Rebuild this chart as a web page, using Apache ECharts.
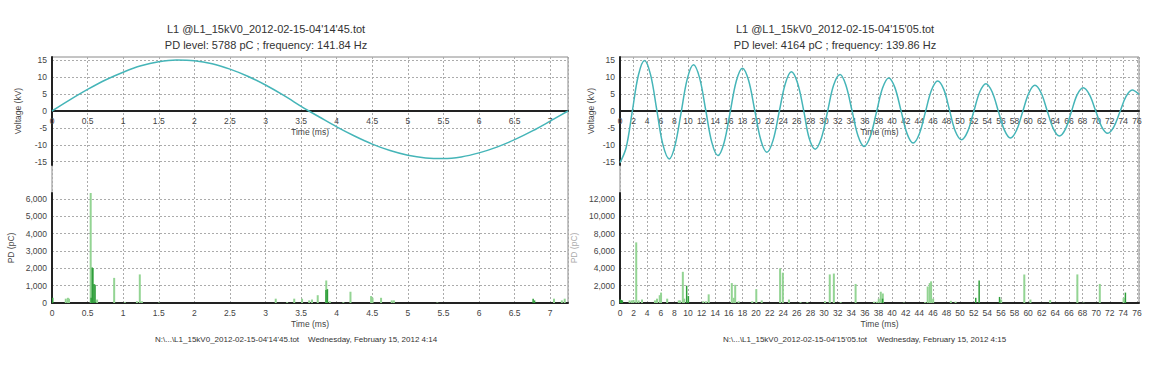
<!DOCTYPE html>
<html><head><meta charset="utf-8">
<script src="https://cdn.jsdelivr.net/npm/echarts@6/dist/echarts.min.js"></script>
<style>html,body{margin:0;padding:0;background:#fff}#c{width:1160px;height:365px}</style>
</head><body><div id="c"></div>
<script>
// ---------- DATA ----------
const leftTitle = "L1 @L1_15kV0_2012-02-15-04'14'45.tot";
const leftSubtitle = "PD level: 5788 pC ; frequency: 141.84 Hz";
const rightTitle = "L1 @L1_15kV0_2012-02-15-04'15'05.tot";
const rightSubtitle = "PD level: 4164 pC ; frequency: 139.86 Hz";
const leftFooterFile = "N:\\...\\L1_15kV0_2012-02-15-04'14'45.tot";
const leftFooterDate = "Wednesday, February 15, 2012 4:14";
const rightFooterFile = "N:\\...\\L1_15kV0_2012-02-15-04'15'05.tot";
const rightFooterDate = "Wednesday, February 15, 2012 4:15";

const voltageTicks = [-15, -10, -5, 0, 5, 10, 15];
const leftPdTicks = [0, 1000, 2000, 3000, 4000, 5000, 6000];
const rightPdTicks = [0, 2000, 4000, 6000, 8000, 10000, 12000];

const leftWaveT = [0,0.25,0.5,0.75,1,1.25,1.5,1.75,2,2.25,2.5,2.75,3,3.25,3.5,3.61,3.75,4,4.25,4.5,4.75,5,5.25,5.5,5.75,6,6.25,6.5,6.75,7,7.25];
const leftWaveV = [0,3.3,6.4,9.2,11.5,13.4,14.6,15.1,14.9,14,12.4,10.3,7.7,4.7,1.4,0,-1.7,-4.7,-7.4,-9.8,-11.7,-13.1,-13.9,-14.1,-13.6,-12.4,-10.7,-8.5,-5.9,-3,0];

const rightWaveT = [0,0.9,1.8,2.7,3.6,4.5,5.4,6.3,7.25,8.1,9.0,9.9,10.8,11.7,12.6,13.5,14.4,15.3,16.2,17.1,18.0,18.9,19.8,20.7,21.6,22.5,23.4,24.3,25.2,26.1,27.0,27.8,28.7,29.6,30.5,31.4,32.35,33.2,34.1,35.0,35.9,36.8,37.7,38.6,39.5,40.4,41.3,42.2,43.1,44.0,44.9,45.8,46.7,47.6,48.45,49.3,50.2,51.1,52.0,52.9,53.8,54.7,55.6,56.5,57.4,58.3,59.2,60.1,61.0,61.9,62.8,63.7,64.6,65.5,66.35,67.2,68.1,69.0,69.9,70.8,71.7,72.6,73.5,74.4,75.3,76.3];
const rightWaveV = [-15.3,-10.9,-0.2,10.6,15.0,10.7,0.4,-9.9,-14.2,-10.1,-0.3,9.6,13.7,9.8,0.3,-9.3,-13.2,-9.4,-0.3,8.9,12.7,9.1,0.3,-8.6,-12.2,-8.7,-0.3,8.1,11.6,8.3,0.2,-8.0,-11.3,-8.1,-0.3,7.6,10.8,7.7,0.2,-7.4,-10.5,-7.5,-0.4,6.8,9.8,7.0,0.2,-6.7,-9.5,-6.8,-0.3,6.2,8.9,6.4,0.2,-6.0,-8.5,-6.1,-0.2,5.7,8.1,5.7,0.1,-5.6,-8.0,-5.7,-0.2,5.3,7.6,5.4,0.1,-5.2,-7.4,-5.3,-0.3,4.8,6.9,4.9,0.2,-4.6,-6.6,-4.7,-0.2,4.3,6.2,4.9];

const leftPdLightT = [0.19,0.22,0.235,0.54,0.63,0.87,1.02,1.19,1.23,1.26,1.5,3.14,3.3,3.4,3.51,3.61,3.65,3.73,3.85,3.9,4.09,4.19,4.48,4.5,4.62,4.77,4.8,5.41,7.05,7.16,7.2];
const leftPdLightV = [250,300,250,6400,200,1450,50,100,1650,100,30,250,50,250,250,150,200,450,1300,100,50,650,400,300,300,150,150,30,250,150,250];
const leftPdDarkT = [0.01,0.55,0.565,0.575,0.59,0.605,3.85,3.87,6.76,6.78];
const leftPdDarkV = [300,300,2050,2000,1100,1050,750,800,250,150];

const rightPdLightT = [1.37,1.7,1.96,2.35,2.7,3.2,5.1,5.4,5.8,6.0,6.9,8.6,8.8,9.2,9.4,12.2,12.6,13.0,16.4,16.7,16.9,17.4,19.4,20.0,20.8,23.5,23.9,24.8,26.5,27.5,30.1,30.8,31.4,32.4,34.6,37.3,37.7,38.0,38.3,38.6,41.7,44.8,45.2,45.5,45.7,46.0,48.6,49.3,56.0,59.4,60.3,63.2,67.2,68.1,70.5,74.0];
const rightPdLightV = [300,300,350,7000,300,400,300,500,900,1200,500,300,300,3600,500,200,200,1000,2300,600,2100,200,200,1600,300,4000,3500,400,100,100,200,3300,3400,100,2200,150,150,500,1300,1100,50,100,1900,2300,2500,500,250,150,400,3300,400,350,3300,50,2200,600];
const rightPdDarkT = [0.05,0.2,0.35,9.8,10.05,38.6,52.3,52.8,55.8,74.3];
const rightPdDarkV = [400,350,300,2000,800,500,600,2600,700,1200];

// ---------- CHART ----------
const FONT = "'Liberation Sans', Arial, sans-serif";
const txt = {fontFamily: FONT, fontSize: 8.5, color: '#444'};
const dotted = {color: '#ababab', type: [2, 2], width: 1};
const zip = (a, b) => a.map((v, i) => [v, b[i]]);
const fmt = v => Number(v).toLocaleString('en-US');

const panels = [
  {left: 52, width: 516, tMax: 7.25, tStep: 0.5, pdMax: 6350, pdTicks: leftPdTicks,
   vGap: 30, pdGap: 37, pdNameColor: '#444',
   wave: zip(leftWaveT, leftWaveV), light: zip(leftPdLightT, leftPdLightV), dark: zip(leftPdDarkT, leftPdDarkV)},
  {left: 620, width: 519, tMax: 76.3, tStep: 2, pdMax: 12700, pdTicks: rightPdTicks,
   vGap: 25, pdGap: 42, pdNameColor: '#aaa',
   wave: zip(rightWaveT, rightWaveV), light: zip(rightPdLightT, rightPdLightV), dark: zip(rightPdDarkT, rightPdDarkV)}
];

const grid = [], xAxis = [], yAxis = [], series = [];
panels.forEach((P, k) => {
  const g = k * 3;
  grid.push({left: P.left, top: 57, width: P.width, height: 108});
  grid.push({left: P.left, top: 193, width: P.width, height: 110});
  grid.push({left: P.left, top: 57, width: P.width, height: 246, show: true, borderColor: '#8a8a8a', borderWidth: 1, backgroundColor: 'transparent'});
  const xBase = {type: 'value', min: 0, max: P.tMax, interval: P.tStep,
    axisTick: {show: false}, splitLine: {show: false},
    axisLabel: Object.assign({}, txt, {margin: 5, showMaxLabel: false}),
    name: 'Time (ms)', nameLocation: 'middle', nameGap: 16, nameTextStyle: Object.assign({}, txt)};
  // top plot: the time axis sits on the 0 kV line (middle of the symmetric -16..16 range)
  xAxis.push(Object.assign({}, xBase, {gridIndex: g, position: 'bottom', offset: -54,
    axisLine: {onZero: false, lineStyle: {color: '#222', width: 2}}}));
  xAxis.push(Object.assign({}, xBase, {gridIndex: g + 1, axisLine: {onZero: false, lineStyle: {color: '#222', width: 2}}}));
  xAxis.push({type: 'value', gridIndex: g + 2, min: 0, max: P.tMax, interval: P.tStep,
    axisLine: {show: false}, axisTick: {show: false}, axisLabel: {show: false},
    splitLine: {show: true, lineStyle: dotted}});
  yAxis.push({type: 'value', gridIndex: g, min: -16, max: 16,
    axisLine: {show: true, onZero: false, lineStyle: {color: '#222', width: 2}},
    axisTick: {show: false, customValues: voltageTicks},
    axisLabel: Object.assign({}, txt, {margin: 5, customValues: voltageTicks}),
    splitLine: {show: true, lineStyle: dotted},
    name: 'Voltage (kV)', nameLocation: 'middle', nameGap: P.vGap, nameTextStyle: Object.assign({}, txt)});
  yAxis.push({type: 'value', gridIndex: g + 1, min: 0, max: P.pdMax,
    axisLine: {show: true, onZero: false, lineStyle: {color: '#222', width: 2}},
    axisTick: {show: false, customValues: P.pdTicks},
    axisLabel: Object.assign({}, txt, {margin: 5, customValues: P.pdTicks, formatter: fmt}),
    splitLine: {show: true, lineStyle: dotted},
    name: 'PD (pC)', nameLocation: 'middle', nameGap: P.pdGap, nameTextStyle: Object.assign({}, txt, {color: P.pdNameColor})});
  yAxis.push({type: 'value', gridIndex: g + 2, min: 0, max: 1, show: false});

  series.push({type: 'line', xAxisIndex: g, yAxisIndex: g, data: P.wave, showSymbol: false, smooth: 0.35,
    lineStyle: {color: '#45b5b8', width: 1.5}, z: 5, animation: false});
  series.push({type: 'bar', xAxisIndex: g + 1, yAxisIndex: g + 1, data: P.light, barWidth: 2, barGap: '-100%',
    itemStyle: {color: '#93d493'}, z: 3, animation: false});
  series.push({type: 'bar', xAxisIndex: g + 1, yAxisIndex: g + 1, data: P.dark, barWidth: 1.5, barGap: '-100%',
    itemStyle: {color: '#2f9e3a'}, z: 4, animation: false});
});

const textEl = (s, x, y, size, align) => ({type: 'text', x: x, y: y, silent: true,
  style: {text: s, fill: '#333', font: size + 'px ' + FONT, align: align, verticalAlign: 'middle'}});

const graphic = [
  textEl(leftTitle, 266, 29, 11, 'center'),
  textEl(leftSubtitle, 266, 45, 11, 'center'),
  textEl(rightTitle, 835, 29, 11, 'center'),
  textEl(rightSubtitle, 835, 45, 11, 'center'),
  textEl(leftFooterFile, 155, 339, 8, 'left'),
  textEl(leftFooterDate, 308, 339, 8, 'left'),
  textEl(rightFooterFile, 723, 339, 8, 'left'),
  textEl(rightFooterDate, 877, 339, 8, 'left')
];

const chart = echarts.init(document.getElementById('c'), null, {renderer: 'svg', width: 1160, height: 365});
chart.setOption({animation: false, backgroundColor: '#fff', grid, xAxis, yAxis, series, graphic});
</script></body></html>
